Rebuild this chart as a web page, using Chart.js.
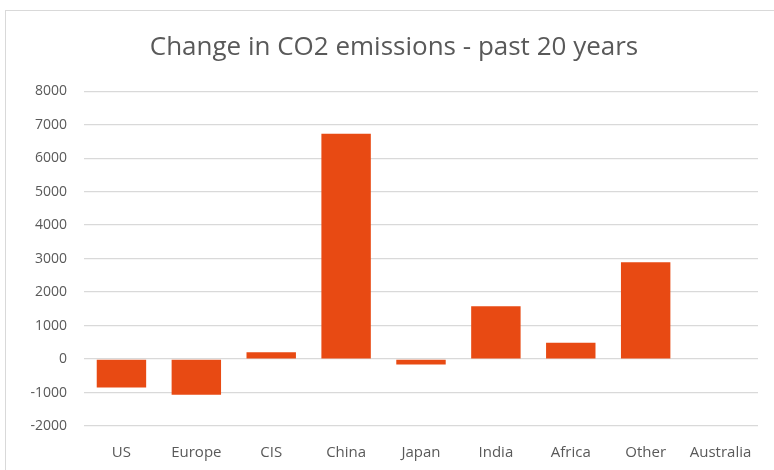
<!DOCTYPE html>
<html>
<head>
<meta charset="utf-8">
<script src="https://cdn.jsdelivr.net/npm/chart.js@4/dist/chart.umd.min.js"></script>
<style>
  body { margin: 0; background: #fff; }
  #frame { position: absolute; left: 5px; top: 10px; width: 800px; height: 500px; border: 1px solid #d9d9d9; }
  #wrap { position: absolute; left: 0; top: 0; width: 774px; height: 470px; }
</style>
</head>
<body>
<div id="frame"></div>
<div id="wrap"><canvas id="c" width="774" height="470"></canvas></div>
<script>
// regions and their change in CO2 emissions
const regions = ['US', 'Europe', 'CIS', 'China', 'Japan', 'India', 'Africa', 'Other', 'Australia'];
const changeValues = [-850, -1070, 200, 6730, -160, 1580, 490, 2890, 0];
const yTicks = [-2000, -1000, 0, 1000, 2000, 3000, 4000, 5000, 6000, 7000, 8000];

const textColor = '#595959';
const barColor = '#e84a13';

new Chart(document.getElementById('c'), {
    type: 'bar',
    data: {
        labels: regions,
        datasets: [{
            label: 'Change',
            data: changeValues,
            backgroundColor: barColor,
            categoryPercentage: 1,
            barPercentage: 0.66
        }]
    },
    options: {
        responsive: false,
        animation: false,
        layout: { padding: { top: 0, right: 16, bottom: 0, left: 30 } },
        plugins: {
            legend: { display: false },
            tooltip: { enabled: false },
            title: {
                display: true,
                text: 'Change in CO2 emissions - past 20 years',
                color: textColor,
                font: { family: 'Open Sans', size: 26, weight: 'normal' },
                padding: { top: 32, bottom: 28 }
            }
        },
        scales: {
            x: {
                grid: { display: false, drawTicks: false },
                border: { display: false },
                ticks: { color: textColor, font: { family: 'Open Sans', size: 15 }, padding: 18 },
                afterFit: (s) => { s.height = 44; }
            },
            y: {
                min: -2000,
                max: 8000,
                afterBuildTicks: (s) => { s.ticks = yTicks.map(v => ({ value: v })); },
                grid: { color: '#d9d9d9', drawTicks: false, lineWidth: 1.3 },
                border: { display: false },
                ticks: {
                    color: textColor,
                    font: { family: 'Open Sans', size: 14 },
                    padding: 17,
                    callback: (v) => String(v)
                },
                afterFit: (s) => { s.width = 54; }
            }
        }
    }
});
</script>
</body>
</html>
